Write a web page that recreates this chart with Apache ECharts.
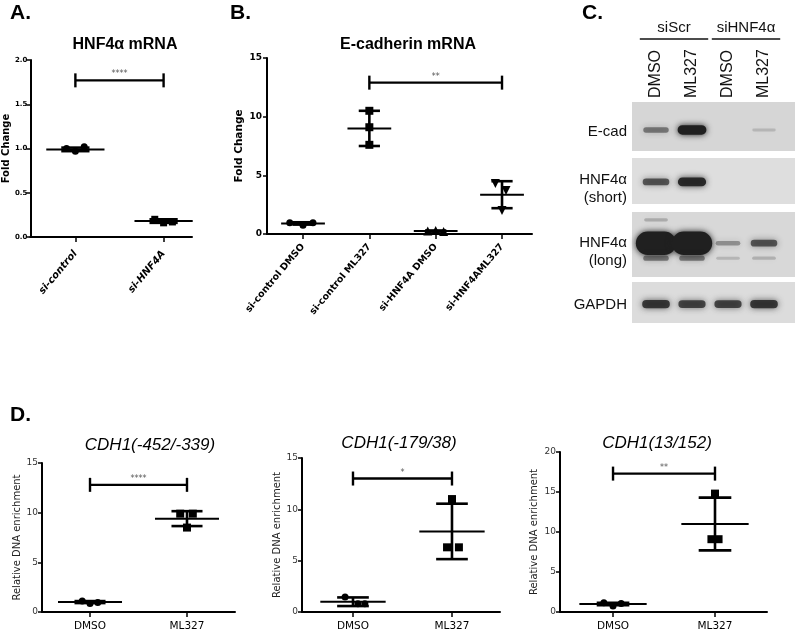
<!DOCTYPE html>
<html><head><meta charset="utf-8">
<script src="https://cdn.jsdelivr.net/npm/echarts@6/dist/echarts.min.js"></script>
<style>html,body{margin:0;padding:0;background:#fff}#c{width:795px;height:632px}</style>
</head><body><div id="c"></div>
<script>
// ===== Panel A: HNF4α mRNA =====
const aCategories = ['si-control', 'si-HNF4A'];
const aControl = [1.00, 0.97, 1.02];
const aControlJitter = [-0.1, 0, 0.1];
const aHnf4a = [0.20, 0.16, 0.17];
const aHnf4aJitter = [-0.1, 0, 0.1];
const aMeans = [0.99, 0.18];
const aSD = [0.02, 0.02];
const aSig = [0, 1, 1.77];
const aSigLabel = '****';

// ===== Panel B: E-cadherin mRNA =====
const bCategories = ['si-control DMSO', 'si-control ML327', 'si-HNF4A DMSO', 'si-HNF4AML327'];
const bCtrlDmso = [0.95, 0.75, 0.95];
const bCtrlDmsoJitter = [-0.2, 0, 0.15];
const bCtrlMl = [10.5, 9.1, 7.6];
const bCtrlMlJitter = [0, 0, 0];
const bHnfDmso = [0.25, 0.3, 0.22];
const bHnfDmsoJitter = [-0.12, 0, 0.12];
const bHnfMl = [4.3, 3.7, 2.0];
const bHnfMlJitter = [-0.1, 0.06, 0];
const bMeans = [0.9, 9.0, 0.25, 3.35];
const bSD = [0.1, 1.5, 0.05, 1.15];
const bSig = [1, 3, 12.9];
const bSigLabel = '**';

// ===== Panel C: western blot =====
const lanes = ['DMSO', 'ML327', 'DMSO', 'ML327'];
const laneGroups = ['siScr', 'siHNF4α'];
const laneGroupSpans = [[1, 2], [3, 4]];
const blotLabels = ['E-cad', 'HNF4α\n(short)', 'HNF4α\n(long)', 'GAPDH'];
const ecadBand = [0.42, 1.0, 0.0, 0.06];
const hnfShortBand = [0.62, 0.9, 0.0, 0.0];
const hnfLongMainBand = [3.0, 3.0, 0.28, 0.62];
const hnfLongLowerBand = [0.42, 0.42, 0.07, 0.1];
const hnfLongUpperBand = [0.12, 0.0, 0.0, 0.0];
const gapdhBand = [0.8, 0.72, 0.72, 0.8];

// ===== Panel D: ChIP =====
const dCategories = ['DMSO', 'ML327'];
const dTitles = ['CDH1(-452/-339)', 'CDH1(-179/38)', 'CDH1(13/152)'];
const d1Dmso = [1.1, 0.85, 0.95];
const d1DmsoJitter = [-0.08, 0, 0.08];
const d1Ml = [9.9, 9.9, 8.5];
const d1MlJitter = [-0.07, 0.06, 0];
const d1Means = [1.0, 9.4];
const d1SD = [0.1, 0.75];
const d1Sig = [0, 1, 12.8];
const d2Dmso = [1.45, 0.8, 0.8];
const d2DmsoJitter = [-0.08, 0.05, 0.12];
const d2Ml = [11.0, 6.3, 6.3];
const d2MlJitter = [0, -0.05, 0.07];
const d2Means = [1.0, 7.85];
const d2SD = [0.42, 2.7];
const d2Sig = [0, 1, 13.0];
const d3Dmso = [1.15, 0.75, 1.05];
const d3DmsoJitter = [-0.09, 0, 0.08];
const d3Ml = [14.8, 9.1, 9.1];
const d3MlJitter = [0, -0.035, 0.035];
const d3Means = [1.0, 11.0];
const d3SD = [0.15, 3.3];
const d3Sig = [0, 1, 17.3];
const dSigLabels = ['****', '*', '**'];

// ---------------- building ----------------
const SANS = 'Liberation Sans';
const WIDE = 'DejaVu Sans';

function pts(group, vals, jit) { return vals.map((v, i) => [group + jit[i], v]); }

function scatter(gi, data, symbol, size, rotate) {
  return { type: 'scatter', xAxisIndex: gi, yAxisIndex: gi, data, symbol, symbolSize: size,
    symbolRotate: rotate || 0, itemStyle: { color: '#000', opacity: 1 }, silent: true, z: 4 };
}

function meanSd(gi, means, sds) {
  return { type: 'custom', xAxisIndex: gi, yAxisIndex: gi, silent: true, z: 3,
    data: means.map((m, i) => [i, m, sds[i]]),
    renderItem(params, api) {
      const x = api.value(0), m = api.value(1), s = api.value(2);
      const L = api.coord([x - 0.33, m]), R = api.coord([x + 0.33, m]);
      const T = api.coord([x, m + s]), B = api.coord([x, m - s]);
      const hw = api.size([0.16, 0])[0];
      const st = { stroke: '#000', lineWidth: 2.6 };
      return { type: 'group', children: [
        { type: 'line', shape: { x1: L[0], y1: L[1], x2: R[0], y2: R[1] }, style: { stroke: '#000', lineWidth: 2 } },
        { type: 'line', shape: { x1: T[0], y1: T[1], x2: B[0], y2: B[1] }, style: st },
        { type: 'line', shape: { x1: T[0] - hw, y1: T[1], x2: T[0] + hw, y2: T[1] }, style: st },
        { type: 'line', shape: { x1: B[0] - hw, y1: B[1], x2: B[0] + hw, y2: B[1] }, style: st }
      ] };
    } };
}

function sigBar(gi, sig, label) {
  return { type: 'custom', xAxisIndex: gi, yAxisIndex: gi, silent: true, z: 3, clip: false,
    data: [sig],
    renderItem(params, api) {
      const a = api.coord([api.value(0), api.value(2)]), b = api.coord([api.value(1), api.value(2)]);
      const st = { stroke: '#000', lineWidth: 2.4 };
      return { type: 'group', children: [
        { type: 'line', shape: { x1: a[0], y1: a[1], x2: b[0], y2: b[1] }, style: st },
        { type: 'line', shape: { x1: a[0], y1: a[1] - 7, x2: a[0], y2: a[1] + 7 }, style: st },
        { type: 'line', shape: { x1: b[0], y1: b[1] - 7, x2: b[0], y2: b[1] + 7 }, style: st },
        { type: 'text', x: (a[0] + b[0]) / 2, y: a[1] - 2, style: { text: label, align: 'center', verticalAlign: 'bottom', font: '8px ' + WIDE, fill: '#555' } }
      ] };
    } };
}

function bands(gi, rows) {
  const data = [];
  rows.forEach(r => r[1].forEach((v, i) => data.push([i + 1, r[0], v])));
  return { type: 'custom', xAxisIndex: gi, yAxisIndex: gi, silent: true, data,
    renderItem(params, api) {
      const I = api.value(2);
      if (I < 0.02) return null;
      const c = api.coord([api.value(0), api.value(1)]);
      const k = Math.min(I, 3);
      const w = api.size([0.64 + 0.16 * k, 0])[0];
      const h = 2.5 + 7 * k;
      const a = Math.min(1, 0.12 + 0.88 * I);
      const col = 'rgba(32,32,32,' + a.toFixed(3) + ')';
      return { type: 'rect', shape: { x: c[0] - w / 2, y: c[1] - h / 2, width: w, height: h, r: h / 2 },
        style: { fill: col, shadowBlur: 6, shadowColor: col } };
    } };
}

function groupHeaders(gi) {
  return { type: 'custom', xAxisIndex: gi, yAxisIndex: gi, silent: true, clip: false,
    data: laneGroupSpans.map((s, i) => [s[0], s[1], i]),
    renderItem(params, api) {
      const top = params.coordSys.y;
      const a = api.coord([api.value(0) - 0.45, 0])[0], b = api.coord([api.value(1) + 0.45, 0])[0];
      return { type: 'group', children: [
        { type: 'line', shape: { x1: a, y1: top - 63, x2: b, y2: top - 63 }, style: { stroke: '#111', lineWidth: 1.5 } },
        { type: 'text', x: (a + b) / 2, y: top - 74, style: { text: laneGroups[api.value(2)], align: 'center', verticalAlign: 'middle', font: '15px ' + SANS, fill: '#111' } }
      ] };
    } };
}

function plotX(gi, min, max, cats, opts) {
  const vals = cats.map((c, i) => i);
  return Object.assign({ type: 'value', gridIndex: gi, min, max,
    axisLine: { onZero: false, lineStyle: { color: '#000', width: 2 } },
    splitLine: { show: false },
    axisTick: { customValues: vals, length: 5, lineStyle: { color: '#000', width: 1.5 } },
    axisLabel: Object.assign({ customValues: vals, formatter: v => cats[Math.round(v)], color: '#000' }, opts) });
}
function plotY(gi, max, interval, name, gap, nameStyle, labelStyle) {
  return { type: 'value', gridIndex: gi, min: 0, max, interval,
    axisLine: { show: true, onZero: false, lineStyle: { color: '#000', width: 2 } },
    splitLine: { show: false },
    axisTick: { show: true, length: 4, lineStyle: { color: '#000', width: 1.5 } },
    axisLabel: labelStyle,
    name, nameLocation: 'middle', nameGap: gap, nameTextStyle: nameStyle };
}

const grids = [
  { left: 27, top: 60, width: 165, height: 177 },
  { left: 267, top: 58, width: 265, height: 176 },
  { left: 42, top: 463, width: 193, height: 150 },
  { left: 302, top: 458, width: 198, height: 154 },
  { left: 560, top: 452, width: 207, height: 160 },
  { left: 632, top: 102, width: 163, height: 49, show: true, backgroundColor: '#d6d6d6', borderWidth: 0 },
  { left: 632, top: 158, width: 163, height: 46, show: true, backgroundColor: '#dedede', borderWidth: 0 },
  { left: 632, top: 212, width: 163, height: 65, show: true, backgroundColor: '#d8d8d8', borderWidth: 0 },
  { left: 632, top: 282, width: 163, height: 41, show: true, backgroundColor: '#dcdcdc', borderWidth: 0 }
];

const xAxes = [
  plotX(0, -0.511, 1.322, aCategories, { rotate: 50, margin: 15, fontFamily: WIDE, fontWeight: 'bold', fontStyle: 'italic', fontSize: 10 }),
  plotX(1, -0.543, 3.452, bCategories, { rotate: 50, margin: 11, fontFamily: WIDE, fontWeight: 'bold', fontSize: 9.5 }),
  plotX(2, -0.495, 1.495, dCategories, { margin: 9, fontFamily: WIDE, fontSize: 10.5 }),
  plotX(3, -0.515, 1.485, dCategories, { margin: 9, fontFamily: WIDE, fontSize: 10.5 }),
  plotX(4, -0.52, 1.51, dCategories, { margin: 9, fontFamily: WIDE, fontSize: 10.5 })
];
const yAxes = [
  plotY(0, 2, 0.5, 'Fold Change', 16, { fontFamily: WIDE, fontWeight: 'bold', fontSize: 10, color: '#000' },
    { formatter: v => v.toFixed(1), fontFamily: WIDE, fontWeight: 'bold', fontSize: 7, margin: 3, color: '#000' }),
  plotY(1, 15, 5, 'Fold Change', 22, { fontFamily: WIDE, fontWeight: 'bold', fontSize: 10.5, color: '#000' },
    { fontFamily: WIDE, fontWeight: 'bold', fontSize: 9, margin: 5, color: '#000' }),
  plotY(2, 15, 5, 'Relative DNA enrichment', 19, { fontFamily: WIDE, fontSize: 10, color: '#222' },
    { fontFamily: WIDE, fontSize: 9, margin: 4, color: '#333' }),
  plotY(3, 15, 5, 'Relative DNA enrichment', 19, { fontFamily: WIDE, fontSize: 10, color: '#222' },
    { fontFamily: WIDE, fontSize: 9, margin: 4, color: '#333' }),
  plotY(4, 20, 5, 'Relative DNA enrichment', 21, { fontFamily: WIDE, fontSize: 10, color: '#222' },
    { fontFamily: WIDE, fontSize: 9, margin: 4, color: '#333' })
];
const blotLabelPos = [0.39, 0.33, 0.385, 0.44];
for (let k = 0; k < 4; k++) {
  const gi = 5 + k;
  xAxes.push({ type: 'value', gridIndex: gi, min: 0.333, max: 4.861, position: 'top',
    show: k === 0, axisLine: { show: false }, axisTick: { show: false }, splitLine: { show: false },
    axisLabel: { customValues: [1, 2, 3, 4], formatter: v => lanes[Math.round(v) - 1], rotate: 90, margin: 4,
      fontFamily: SANS, fontSize: 16, color: '#111' } });
  yAxes.push({ type: 'value', gridIndex: gi, min: 0, max: 1,
    axisLine: { show: false }, axisTick: { show: false }, splitLine: { show: false },
    axisLabel: { customValues: [blotLabelPos[k]], formatter: () => blotLabels[k], margin: 5,
      fontFamily: SANS, fontSize: 15, lineHeight: 18, color: '#111', align: 'right' } });
}

const series = [
  meanSd(0, aMeans, aSD),
  scatter(0, pts(0, aControl, aControlJitter), 'circle', 7),
  scatter(0, pts(1, aHnf4a, aHnf4aJitter), 'rect', 7),
  sigBar(0, aSig, aSigLabel),
  meanSd(1, bMeans, bSD),
  scatter(1, pts(0, bCtrlDmso, bCtrlDmsoJitter), 'circle', 7),
  scatter(1, pts(1, bCtrlMl, bCtrlMlJitter), 'rect', 8),
  scatter(1, pts(2, bHnfDmso, bHnfDmsoJitter), 'triangle', 9),
  scatter(1, pts(3, bHnfMl, bHnfMlJitter), 'triangle', 9, 180),
  sigBar(1, bSig, bSigLabel),
  meanSd(2, d1Means, d1SD),
  scatter(2, pts(0, d1Dmso, d1DmsoJitter), 'circle', 7),
  scatter(2, pts(1, d1Ml, d1MlJitter), 'rect', 8),
  sigBar(2, d1Sig, dSigLabels[0]),
  meanSd(3, d2Means, d2SD),
  scatter(3, pts(0, d2Dmso, d2DmsoJitter), 'circle', 7),
  scatter(3, pts(1, d2Ml, d2MlJitter), 'rect', 8),
  sigBar(3, d2Sig, dSigLabels[1]),
  meanSd(4, d3Means, d3SD),
  scatter(4, pts(0, d3Dmso, d3DmsoJitter), 'circle', 7),
  scatter(4, pts(1, d3Ml, d3MlJitter), 'rect', 8),
  sigBar(4, d3Sig, dSigLabels[2]),
  bands(5, [[0.43, ecadBand]]),
  bands(6, [[0.48, hnfShortBand]]),
  bands(7, [[0.52, hnfLongMainBand], [0.29, hnfLongLowerBand], [0.88, hnfLongUpperBand]]),
  bands(8, [[0.46, gapdhBand]]),
  groupHeaders(5)
];

function txt(x, y, text, font, align) {
  return { type: 'text', x, y, silent: true, style: { text, font, fill: '#000', align: align || 'center', verticalAlign: 'middle' } };
}
const graphic = [
  txt(10, 13, 'A.', 'bold 21px ' + SANS, 'left'),
  txt(230, 13, 'B.', 'bold 21px ' + SANS, 'left'),
  txt(582, 13, 'C.', 'bold 21px ' + SANS, 'left'),
  txt(10, 415, 'D.', 'bold 21px ' + SANS, 'left'),
  txt(125, 45, 'HNF4α mRNA', 'bold 16px ' + SANS),
  txt(408, 45, 'E-cadherin mRNA', 'bold 16px ' + SANS),
  txt(150, 445, dTitles[0], 'italic 17px ' + SANS),
  txt(399, 443, dTitles[1], 'italic 17px ' + SANS),
  txt(657, 443, dTitles[2], 'italic 17px ' + SANS)
];

const chart = echarts.init(document.getElementById('c'), null, { renderer: 'canvas' });
chart.setOption({ backgroundColor: '#fff', animation: false, grid: grids, xAxis: xAxes, yAxis: yAxes, series, graphic });
</script></body></html>
